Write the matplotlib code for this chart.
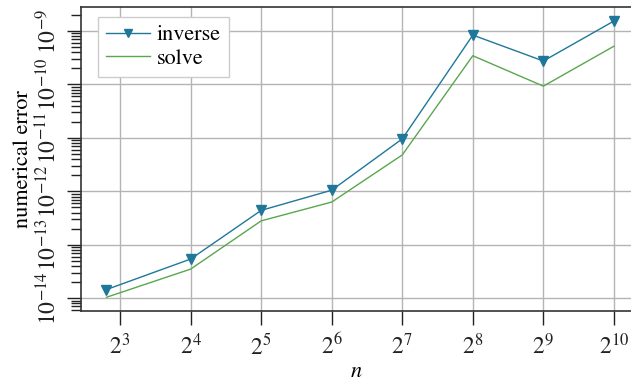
import matplotlib
matplotlib.use("Agg")
import matplotlib.pyplot as plt
from matplotlib.ticker import LogLocator, FixedLocator, FixedFormatter, NullFormatter

plt.rcParams['font.family'] = ['STIXGeneral', 'DejaVu Serif']
plt.rcParams['mathtext.fontset'] = 'stix'

n = [7, 16, 32, 64, 128, 256, 512, 1024]
err_inverse = [1.45e-14, 5.4e-14, 4.4e-13, 1.05e-12, 9.6e-12, 8.4e-10, 2.75e-10, 1.54e-9]
err_solve = [1.04e-14, 3.5e-14, 2.8e-13, 6.3e-13, 4.8e-12, 3.45e-10, 9.3e-11, 5.2e-10]

xtick_pos = [2 ** k for k in range(3, 11)]
xtick_labels = [r'$2^{%d}$' % k for k in range(3, 11)]
ytick_pos = [10.0 ** k for k in range(-14, -8)]
ytick_labels = [r'$10^{-%d}$' % -k for k in range(-14, -8)]

fig = plt.figure(figsize=(6.31, 3.83), dpi=100)
ax = fig.add_axes([81 / 631, 1 - 311 / 383, 1 - 81 / 631 + 0.002, (311 - 7) / 383])

ax.plot(n, err_inverse, color='#1f7899', lw=1.0, marker='v', markersize=7,
        label='inverse')
ax.plot(n, err_solve, color='#5aa64f', lw=1.0, label='solve')

ax.set_xscale('log', base=2)
ax.set_yscale('log')
ax.set_xlim(2 ** 2.446, 2 ** 10.26)
ax.set_ylim(10 ** -14.24, 10 ** -8.55)

ax.xaxis.set_major_locator(FixedLocator(xtick_pos))
ax.xaxis.set_major_formatter(FixedFormatter(xtick_labels))
ax.xaxis.set_minor_locator(FixedLocator([]))
ax.yaxis.set_major_locator(FixedLocator(ytick_pos))
ax.yaxis.set_major_formatter(FixedFormatter(ytick_labels))
ax.yaxis.set_minor_locator(LogLocator(base=10, subs=range(2, 10), numticks=20))
ax.yaxis.set_minor_formatter(NullFormatter())

ax.tick_params(axis='both', which='major', direction='out', length=10, width=1,
               labelsize=17, colors='#222222')
ax.tick_params(axis='y', which='minor', direction='out', length=7, width=1,
               color='#222222')
ax.tick_params(axis='y', labelrotation=90, pad=4)
for lbl in ax.get_yticklabels():
    lbl.set_va('center')
ax.tick_params(axis='x', pad=6)

ax.grid(True, which='major', color='#b4b4b4', lw=1)
for side in ['left', 'bottom', 'top', 'right']:
    ax.spines[side].set_color('#333333')
    ax.spines[side].set_linewidth(1.2)

ax.set_xlabel(r'$n$', fontsize=16, labelpad=2)
ax.set_ylabel('numerical error', fontsize=16, labelpad=2)

ax.legend(loc='upper left', fontsize=16, frameon=True, fancybox=False,
          edgecolor='#cccccc', framealpha=1, handlelength=2.0, handletextpad=0.3,
          markerscale=0.8, borderpad=0.35, labelspacing=0.15, borderaxespad=0,
          bbox_to_anchor=(17 / 550, 1 - 10 / 304))

fig.savefig('out.png', dpi=100)
